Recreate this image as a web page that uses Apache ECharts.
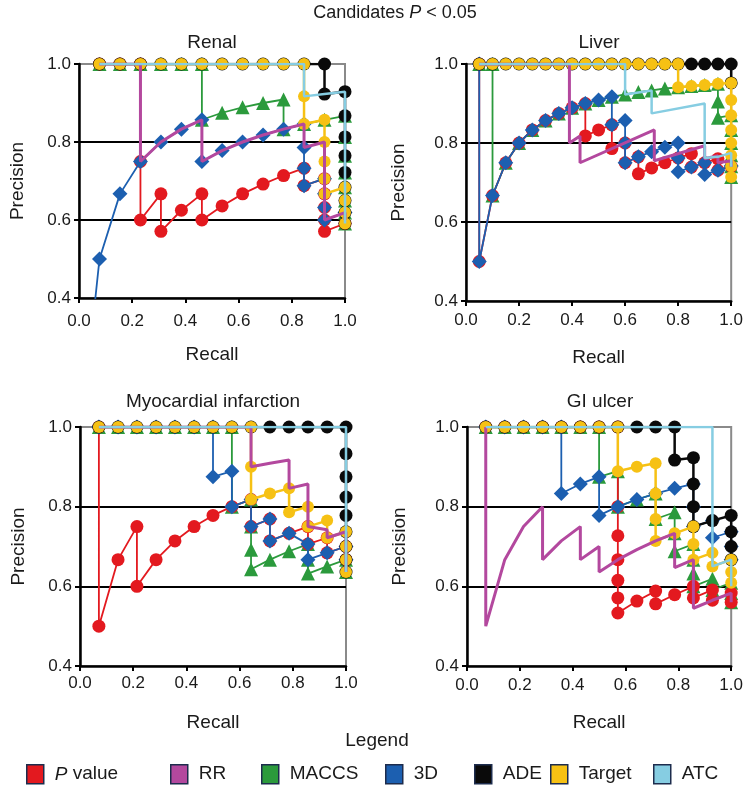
<!DOCTYPE html>
<html><head><meta charset="utf-8">
<script src="https://cdn.jsdelivr.net/npm/echarts@6/dist/echarts.min.js"></script>
<style>html,body{margin:0;padding:0;background:#fff}#c{width:746px;height:793px}</style>
</head><body><div id="c"></div>
<script>
// ---------------- DATA (recall, precision) ----------------
const seriesNames = ['P value', 'RR', 'MACCS', '3D', 'ADE', 'Target', 'ATC'];
const panelTitles = ['Renal', 'Liver', 'Myocardial infarction', 'GI ulcer'];
const xTickValues = [0.0, 0.2, 0.4, 0.6, 0.8, 1.0];
const yTickValues = [0.4, 0.6, 0.8, 1.0];

// Renal
const renal_pval = [[0.077,1],[0.154,1],[0.231,1],[0.231,0.75],[0.231,0.6],[0.308,0.667],[0.308,0.571],[0.385,0.625],[0.462,0.667],[0.462,0.6],[0.538,0.636],[0.615,0.667],[0.692,0.692],[0.769,0.714],[0.846,0.733],[0.846,0.688],[0.923,0.706],[0.923,0.667],[0.923,0.632],[0.923,0.6],[0.923,0.571],[1.0,0.591]];
const renal_rr = [[0.077,1],[0.154,1],[0.231,1],[0.231,0.75],[0.308,0.8],[0.385,0.833],[0.462,0.857],[0.462,0.75],[0.538,0.778],[0.615,0.8],[0.692,0.818],[0.769,0.833],[0.846,0.846],[0.846,0.786],[0.923,0.8],[0.923,0.6],[1.0,0.619],[1.0,0.6]];
const renal_maccs = [[0.077,1],[0.154,1],[0.231,1],[0.308,1],[0.385,1],[0.462,1],[0.462,0.857],[0.538,0.875],[0.615,0.889],[0.692,0.9],[0.769,0.909],[0.769,0.833],[0.846,0.846],[0.923,0.857],[1.0,0.867],[1.0,0.813],[1.0,0.765],[1.0,0.722],[1.0,0.684],[1.0,0.65],[1.0,0.619],[1.0,0.591]];
const renal_3d = [[0,0],[0.077,0.5],[0.154,0.667],[0.231,0.75],[0.308,0.8],[0.385,0.833],[0.462,0.857],[0.462,0.75],[0.538,0.778],[0.615,0.8],[0.692,0.818],[0.769,0.833],[0.846,0.846],[0.846,0.786],[0.846,0.733],[0.846,0.688],[0.923,0.706],[0.923,0.667],[0.923,0.632],[0.923,0.6],[1.0,0.619]];
const renal_ade = [[0.077,1],[0.154,1],[0.231,1],[0.308,1],[0.385,1],[0.462,1],[0.538,1],[0.615,1],[0.692,1],[0.769,1],[0.846,1],[0.923,1],[0.923,0.923],[1.0,0.929],[1.0,0.867],[1.0,0.813],[1.0,0.765],[1.0,0.722],[1.0,0.684],[1.0,0.65],[1.0,0.619],[1.0,0.591]];
const renal_target = [[0.077,1],[0.154,1],[0.231,1],[0.308,1],[0.385,1],[0.462,1],[0.538,1],[0.615,1],[0.692,1],[0.769,1],[0.846,1],[0.846,0.917],[0.846,0.846],[0.923,0.857],[0.923,0.8],[0.923,0.75],[0.923,0.706],[0.923,0.667],[1.0,0.684],[1.0,0.65],[1.0,0.619],[1.0,0.591]];
const renal_atc = [[0.077,1],[0.846,1],[0.846,0.917],[0.923,0.923],[1.0,0.929],[1.0,0.591]];

// Liver
const liver_pval = [[0.05,1],[0.05,0.5],[0.1,0.667],[0.15,0.75],[0.2,0.8],[0.25,0.833],[0.3,0.857],[0.35,0.875],[0.4,0.889],[0.45,0.9],[0.45,0.818],[0.5,0.833],[0.55,0.846],[0.55,0.786],[0.6,0.8],[0.6,0.75],[0.65,0.765],[0.65,0.722],[0.7,0.737],[0.75,0.75],[0.8,0.762],[0.85,0.773],[0.85,0.739],[0.9,0.75],[0.95,0.76],[0.95,0.731],[1.0,0.741]];
const liver_rr = [[0.05,1],[0.39,1],[0.39,0.8],[0.43,0.818],[0.43,0.75],[0.71,0.833],[0.71,0.755],[0.9,0.793],[0.9,0.76],[0.95,0.768],[0.95,0.75],[1.0,0.755],[1.0,0.74]];
const liver_maccs = [[0.05,1],[0.1,1],[0.1,0.667],[0.15,0.75],[0.2,0.8],[0.25,0.833],[0.3,0.857],[0.35,0.875],[0.4,0.889],[0.45,0.9],[0.5,0.909],[0.55,0.917],[0.6,0.923],[0.65,0.929],[0.7,0.933],[0.75,0.938],[0.8,0.941],[0.85,0.944],[0.9,0.947],[0.95,0.95],[0.95,0.905],[0.95,0.864],[1.0,0.87],[1.0,0.833],[1.0,0.8],[1.0,0.769],[1.0,0.741],[1.0,0.714]];
const liver_3d = [[0.05,1],[0.05,0.5],[0.1,0.667],[0.15,0.75],[0.2,0.8],[0.25,0.833],[0.3,0.857],[0.35,0.875],[0.4,0.889],[0.45,0.9],[0.5,0.909],[0.55,0.917],[0.55,0.846],[0.6,0.857],[0.6,0.8],[0.6,0.75],[0.65,0.765],[0.7,0.778],[0.75,0.789],[0.8,0.8],[0.8,0.762],[0.8,0.727],[0.85,0.739],[0.9,0.75],[0.9,0.72],[0.95,0.731],[1.0,0.742]];
const liver_ade = [[0.05,1],[0.1,1],[0.15,1],[0.2,1],[0.25,1],[0.3,1],[0.35,1],[0.4,1],[0.45,1],[0.5,1],[0.55,1],[0.6,1],[0.65,1],[0.7,1],[0.75,1],[0.8,1],[0.85,1],[0.9,1],[0.95,1],[1.0,1],[1.0,0.952]];
const liver_target = [[0.05,1],[0.1,1],[0.15,1],[0.2,1],[0.25,1],[0.3,1],[0.35,1],[0.4,1],[0.45,1],[0.5,1],[0.55,1],[0.6,1],[0.65,1],[0.7,1],[0.75,1],[0.8,1],[0.8,0.941],[0.85,0.944],[0.9,0.947],[0.95,0.95],[1.0,0.952],[1.0,0.909],[1.0,0.87],[1.0,0.833],[1.0,0.8],[1.0,0.769],[1.0,0.741],[1.0,0.714]];
const liver_atc = [[0.05,1],[0.6,1],[0.6,0.923],[0.7,0.933],[0.7,0.875],[0.9,0.9],[0.9,0.762],[0.95,0.765],[1.0,0.775],[1.0,0.74]];

// Myocardial infarction
const mi_pval = [[0.071,1],[0.071,0.5],[0.143,0.667],[0.214,0.75],[0.214,0.6],[0.286,0.667],[0.357,0.714],[0.429,0.75],[0.5,0.778],[0.571,0.8],[0.643,0.818],[0.643,0.75],[0.714,0.769],[0.714,0.714],[0.786,0.733],[0.857,0.75],[0.857,0.706],[0.929,0.722],[0.929,0.684],[1.0,0.7],[1.0,0.667]];
const mi_rr = [[0.071,1],[0.643,1],[0.643,0.9],[0.714,0.909],[0.786,0.917],[0.786,0.846],[0.857,0.857],[0.857,0.75],[0.929,0.742],[0.929,0.722],[1.0,0.737],[1.0,0.636]];
const mi_maccs = [[0.071,1],[0.143,1],[0.214,1],[0.286,1],[0.357,1],[0.429,1],[0.5,1],[0.571,1],[0.571,0.8],[0.643,0.818],[0.643,0.75],[0.643,0.692],[0.643,0.643],[0.714,0.667],[0.786,0.688],[0.857,0.706],[0.857,0.667],[0.857,0.632],[0.929,0.65],[1.0,0.667],[1.0,0.636]];
const mi_3d = [[0.071,1],[0.143,1],[0.214,1],[0.286,1],[0.357,1],[0.429,1],[0.5,1],[0.5,0.875],[0.571,0.889],[0.571,0.8],[0.643,0.818],[0.643,0.75],[0.714,0.769],[0.714,0.714],[0.786,0.733],[0.857,0.706],[0.857,0.667],[0.929,0.684],[1.0,0.7],[1.0,0.667]];
const mi_ade = [[0.071,1],[0.143,1],[0.214,1],[0.286,1],[0.357,1],[0.429,1],[0.5,1],[0.571,1],[0.643,1],[0.714,1],[0.786,1],[0.857,1],[0.929,1],[1.0,1],[1.0,0.933],[1.0,0.875],[1.0,0.824],[1.0,0.778],[1.0,0.737],[1.0,0.7],[1.0,0.667],[1.0,0.636]];
const mi_target = [[0.071,1],[0.143,1],[0.214,1],[0.286,1],[0.357,1],[0.429,1],[0.5,1],[0.571,1],[0.643,1],[0.643,0.9],[0.643,0.818],[0.714,0.833],[0.786,0.846],[0.786,0.786],[0.857,0.8],[0.857,0.75],[0.929,0.765],[0.929,0.722],[1.0,0.737],[1.0,0.7],[1.0,0.667],[1.0,0.636]];
const mi_atc = [[0.071,1],[1.0,1],[1.0,0.636]];

// GI ulcer
const gi_pval = [[0.071,1],[0.143,1],[0.214,1],[0.286,1],[0.357,1],[0.429,1],[0.5,1],[0.571,1],[0.571,0.8],[0.571,0.727],[0.571,0.667],[0.571,0.615],[0.571,0.571],[0.571,0.533],[0.643,0.563],[0.714,0.588],[0.714,0.556],[0.786,0.579],[0.857,0.6],[0.857,0.571],[0.929,0.591],[0.929,0.565],[1.0,0.583],[1.0,0.56]];
const gi_rr = [[0.071,1],[0.071,0.5],[0.143,0.667],[0.214,0.75],[0.286,0.8],[0.286,0.667],[0.357,0.714],[0.429,0.75],[0.429,0.667],[0.5,0.7],[0.5,0.636],[0.571,0.667],[0.643,0.692],[0.714,0.714],[0.786,0.733],[0.786,0.647],[0.857,0.667],[0.857,0.545],[0.929,0.565],[1.0,0.583],[1.0,0.56]];
const gi_maccs = [[0.071,1],[0.143,1],[0.214,1],[0.286,1],[0.357,1],[0.429,1],[0.5,1],[0.5,0.875],[0.571,0.889],[0.571,0.8],[0.643,0.818],[0.714,0.833],[0.714,0.769],[0.786,0.786],[0.786,0.733],[0.786,0.688],[0.857,0.706],[0.857,0.667],[0.857,0.632],[0.857,0.6],[0.929,0.619],[0.929,0.591],[1.0,0.609],[1.0,0.583],[1.0,0.56]];
const gi_3d = [[0.071,1],[0.143,1],[0.214,1],[0.286,1],[0.357,1],[0.357,0.833],[0.429,0.857],[0.5,0.875],[0.5,0.778],[0.571,0.8],[0.643,0.818],[0.714,0.833],[0.786,0.846],[0.857,0.857],[0.857,0.8],[0.857,0.75],[0.929,0.765],[0.929,0.722],[1.0,0.737],[1.0,0.7],[1.0,0.667]];
const gi_ade = [[0.071,1],[0.143,1],[0.214,1],[0.286,1],[0.357,1],[0.429,1],[0.5,1],[0.571,1],[0.643,1],[0.714,1],[0.786,1],[0.786,0.917],[0.857,0.923],[0.857,0.857],[0.857,0.8],[0.857,0.75],[0.929,0.765],[1.0,0.778],[1.0,0.737],[1.0,0.7],[1.0,0.667]];
const gi_target = [[0.071,1],[0.143,1],[0.214,1],[0.286,1],[0.357,1],[0.429,1],[0.5,1],[0.571,1],[0.571,0.889],[0.643,0.9],[0.714,0.909],[0.714,0.833],[0.714,0.769],[0.714,0.714],[0.786,0.733],[0.857,0.75],[0.857,0.706],[0.857,0.667],[0.929,0.684],[0.929,0.65],[1.0,0.667],[1.0,0.636],[1.0,0.609]];
const gi_atc = [[0.071,1],[0.929,1],[0.929,0.65],[1.0,0.667],[1.0,0.6]];

const panelData = [
  {'P value': renal_pval, 'RR': renal_rr, 'MACCS': renal_maccs, '3D': renal_3d, 'ADE': renal_ade, 'Target': renal_target, 'ATC': renal_atc},
  {'P value': liver_pval, 'RR': liver_rr, 'MACCS': liver_maccs, '3D': liver_3d, 'ADE': liver_ade, 'Target': liver_target, 'ATC': liver_atc},
  {'P value': mi_pval, 'RR': mi_rr, 'MACCS': mi_maccs, '3D': mi_3d, 'ADE': mi_ade, 'Target': mi_target, 'ATC': mi_atc},
  {'P value': gi_pval, 'RR': gi_rr, 'MACCS': gi_maccs, '3D': gi_3d, 'ADE': gi_ade, 'Target': gi_target, 'ATC': gi_atc}
];

// ---------------- STYLE / LAYOUT ----------------
const FONT = 'Liberation Sans, Arial, sans-serif';
const TXT = '#1a1a1a';
const grids = [
  {left: 79, top: 64, width: 266, height: 234},
  {left: 466, top: 64, width: 266, height: 237},
  {left: 80, top: 427, width: 266, height: 239},
  {left: 467, top: 427, width: 265, height: 239}
];
const xLabelMargin = [15, 11, 9, 11];
const yNameGap = [52, 58, 52, 58];
const titlePos = [[212, 43], [599, 43], [213, 402], [600, 402]];

const look = {
  'MACCS':   {color: '#2b9a3c', symbol: 'triangle', size: 14, lw: 1.8, z: 2},
  'P value': {color: '#e3191f', symbol: 'circle',   size: 13, lw: 1.8, z: 3},
  '3D':      {color: '#1c5fb0', symbol: 'diamond',  size: 15, lw: 1.8, z: 4},
  'ADE':     {color: '#0a0a0a', symbol: 'circle',   size: 13, lw: 2.5, z: 5},
  'Target':  {color: '#f6c114', symbol: 'circle',   size: 12, lw: 2.5, z: 6},
  'RR':      {color: '#b3489e', symbol: 'none',     size: 0,  lw: 3,   z: 7},
  'ATC':     {color: '#86cde2', symbol: 'none',     size: 0,  lw: 2.5, z: 8}
};
const drawOrder = ['MACCS', 'P value', '3D', 'ADE', 'Target', 'RR', 'ATC'];
const legendLeft = [26, 170, 261, 385, 474, 550, 653];

const xAxes = grids.map((g, i) => ({
  type: 'value', gridIndex: i, min: xTickValues[0], max: xTickValues[xTickValues.length - 1], interval: 0.2,
  name: 'Recall', nameLocation: 'middle', nameGap: 47,
  nameTextStyle: {fontSize: 19, color: TXT, fontFamily: FONT},
  axisLine: {show: true, onZero: false, lineStyle: {color: '#000', width: 2.5}},
  axisTick: {show: true, length: 5, lineStyle: {color: '#000', width: 2}},
  axisLabel: {fontSize: 17, color: TXT, fontFamily: FONT, margin: xLabelMargin[i], formatter: v => v.toFixed(1)},
  splitLine: {show: false}
}));
const yAxes = grids.map((g, i) => ({
  type: 'value', gridIndex: i, min: yTickValues[0], max: yTickValues[yTickValues.length - 1], interval: 0.2,
  name: 'Precision', nameLocation: 'middle', nameGap: yNameGap[i],
  nameTextStyle: {fontSize: 19, color: TXT, fontFamily: FONT},
  axisLine: {show: true, onZero: false, lineStyle: {color: '#000', width: 2.5}},
  axisTick: {show: true, length: 5, lineStyle: {color: '#000', width: 2}},
  axisLabel: {fontSize: 17, color: TXT, fontFamily: FONT, margin: 8, formatter: v => v.toFixed(1)},
  splitLine: {show: true, showMinLine: false, showMaxLine: false, lineStyle: {color: '#000', width: 2}}
}));

const series = [];
panelData.forEach((pd, i) => {
  drawOrder.forEach(n => {
    const s = look[n];
    series.push({
      type: 'line', name: n, xAxisIndex: i, yAxisIndex: i, data: pd[n],
      symbol: s.symbol, symbolSize: s.size, showSymbol: s.symbol !== 'none',
      lineStyle: {color: s.color, width: s.lw}, itemStyle: {color: s.color},
      z: s.z, clip: true, silent: true, animation: false
    });
  });
});

const legends = seriesNames.map((n, i) => ({
  left: legendLeft[i], top: 764, padding: 0, itemWidth: 17, itemHeight: 19, itemGap: 0,
  selectedMode: false,
  data: [{name: n, icon: 'rect', itemStyle: {color: look[n].color, borderColor: '#1d2c4d', borderWidth: 1.5}}],
  formatter: name => name === 'P value' ? '{i|P} value' : name,
  textStyle: {fontSize: 19, color: TXT, fontFamily: FONT, padding: [0, 0, 0, 6],
    rich: {i: {fontStyle: 'italic', fontSize: 19, color: TXT, fontFamily: FONT}}}
}));

const graphics = [
  {type: 'text', x: 395, y: 13, style: {
    text: '{a|Candidates }{p|P}{a| < 0.05}', align: 'center', verticalAlign: 'middle',
    rich: {a: {fontSize: 18, fontFamily: FONT, fill: TXT}, p: {fontSize: 18, fontFamily: FONT, fontStyle: 'italic', fill: TXT}}
  }},
  {type: 'text', x: 377, y: 741, style: {text: 'Legend', align: 'center', verticalAlign: 'middle', fontSize: 19, fontFamily: FONT, fill: TXT}}
];
panelTitles.forEach((t, i) => {
  graphics.push({type: 'text', x: titlePos[i][0], y: titlePos[i][1],
    style: {text: t, align: 'center', verticalAlign: 'middle', fontSize: 19, fontFamily: FONT, fill: TXT}});
});

const chart = echarts.init(document.getElementById('c'), null, {renderer: 'canvas'});
chart.setOption({
  animation: false,
  backgroundColor: '#fff',
  textStyle: {fontFamily: FONT},
  grid: grids.map(g => Object.assign({show: true, borderColor: '#8a8a8a', borderWidth: 2, backgroundColor: 'transparent'}, g)),
  xAxis: xAxes,
  yAxis: yAxes,
  legend: legends,
  graphic: graphics,
  series: series
});
</script>
</body></html>
